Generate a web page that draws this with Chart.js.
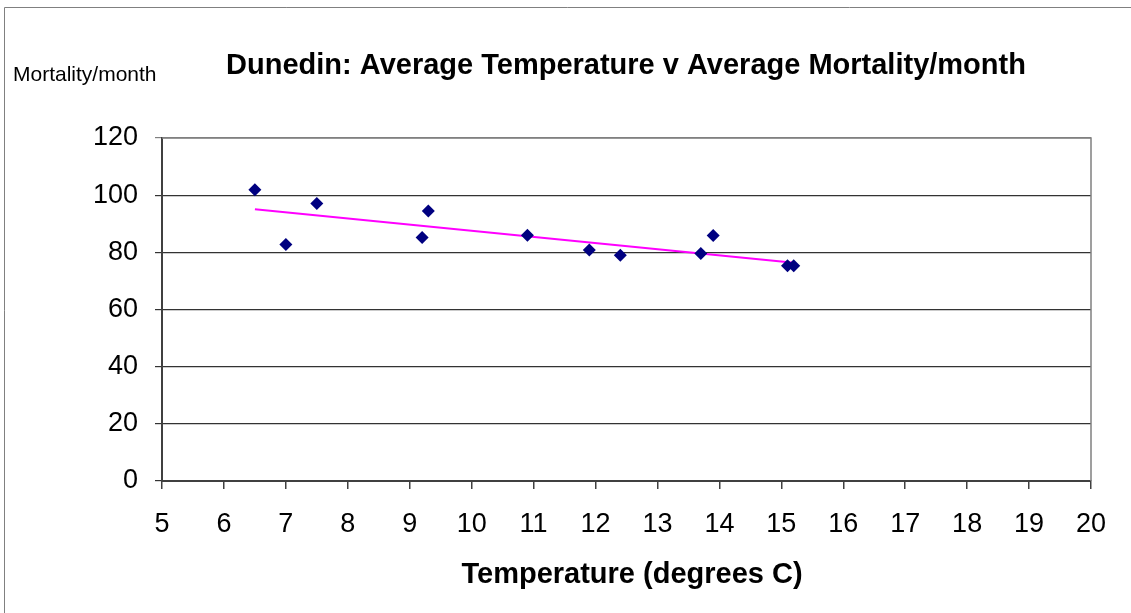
<!DOCTYPE html>
<html>
<head>
<meta charset="utf-8">
<script src="https://cdn.jsdelivr.net/npm/chart.js@4.4.1/dist/chart.umd.min.js"></script>
<style>
  html, body { margin: 0; padding: 0; background: #ffffff; }
  #wrap { width: 1131px; height: 613px; position: relative; }
</style>
</head>
<body>
<div id="wrap"><canvas id="chart" width="1131" height="613"></canvas></div>
<script>
// Monthly averages for Dunedin
const temperature = [6.5, 7.0, 7.5, 9.2, 9.3, 10.9, 11.9, 12.4, 13.7, 13.9, 15.1, 15.2];
const mortality   = [101.9, 82.7, 97.1, 85.2, 94.5, 86.0, 80.8, 79.0, 79.6, 85.9, 75.3, 75.3];

const xTicks = [5, 6, 7, 8, 9, 10, 11, 12, 13, 14, 15, 16, 17, 18, 19, 20];
const yTicks = [0, 20, 40, 60, 80, 100, 120];

const chartTitle = 'Dunedin: Average Temperature v Average Mortality/month';
const xTitle = 'Temperature (degrees C)';
const yTitle = 'Mortality/month';

// Least-squares trend line over the observed temperature range
function trendLine(xs, ys) {
  const n = xs.length;
  const mx = xs.reduce((a, b) => a + b, 0) / n;
  const my = ys.reduce((a, b) => a + b, 0) / n;
  let sxy = 0, sxx = 0;
  for (let i = 0; i < n; i++) {
    sxy += (xs[i] - mx) * (ys[i] - my);
    sxx += (xs[i] - mx) * (xs[i] - mx);
  }
  const slope = sxy / sxx;
  const x0 = Math.min(...xs), x1 = Math.max(...xs);
  return [
    { x: x0, y: my + slope * (x0 - mx) },
    { x: x1, y: my + slope * (x1 - mx) }
  ];
}

const points = temperature.map((t, i) => ({ x: t, y: mortality[i] }));
const FONT = '"Liberation Sans", Arial, sans-serif';

const decorations = {
  id: 'decorations',
  beforeDraw(chart) {
    const ctx = chart.ctx;
    ctx.save();
    // outer frame
    ctx.strokeStyle = '#808080';
    ctx.lineWidth = 1;
    ctx.beginPath();
    ctx.moveTo(4.5, 613);
    ctx.lineTo(4.5, 7.5);
    ctx.lineTo(1131, 7.5);
    ctx.stroke();
    ctx.restore();
  },
  afterDatasetsDraw(chart) {
    const ctx = chart.ctx;
    const a = chart.chartArea;
    ctx.save();
    // plot area border: top and right
    ctx.strokeStyle = '#808080';
    ctx.lineWidth = 1.5;
    ctx.beginPath();
    ctx.moveTo(a.left, a.top);
    ctx.lineTo(a.right, a.top);
    ctx.lineTo(a.right, a.bottom);
    ctx.stroke();
    ctx.restore();
  },
  afterDraw(chart) {
    const ctx = chart.ctx;
    ctx.save();
    ctx.fillStyle = '#000000';
    ctx.textBaseline = 'alphabetic';
    ctx.textAlign = 'center';
    ctx.font = 'bold 29px ' + FONT;
    ctx.fillText(chartTitle, 626, 74);
    ctx.fillText(xTitle, 632, 583);
    ctx.textAlign = 'left';
    ctx.font = '21px ' + FONT;
    ctx.fillText(yTitle, 13, 81);
    ctx.restore();
  }
};

new Chart(document.getElementById('chart'), {
  type: 'scatter',
  data: {
    datasets: [
      {
        label: 'Mortality',
        data: points,
        pointStyle: 'rectRot',
        pointRadius: 6.5,
        pointHoverRadius: 6.5,
        backgroundColor: '#000080',
        borderColor: '#000080',
        borderWidth: 0,
        order: 1
      },
      {
        label: 'Trend',
        type: 'line',
        data: trendLine(temperature, mortality),
        borderColor: '#ff00ff',
        borderWidth: 2,
        pointRadius: 0,
        fill: false,
        order: 2
      }
    ]
  },
  options: {
    responsive: false,
    animation: false,
    events: [],
    layout: { padding: { top: 138, left: 0, right: 40, bottom: 0 } },
    plugins: {
      legend: { display: false },
      title: { display: false },
      tooltip: { enabled: false }
    },
    scales: {
      x: {
        type: 'linear',
        min: 5,
        max: 20,
        afterFit(scale) { scale.height = 132; },
        afterBuildTicks(scale) { scale.ticks = xTicks.map(v => ({ value: v })); },
        border: { display: true, color: '#404040', width: 2 },
        grid: { drawOnChartArea: false, drawTicks: true, tickLength: 8, color: '#404040', lineWidth: 1.5 },
        ticks: { color: '#000000', font: { family: FONT, size: 27 }, padding: 19, maxRotation: 0 }
      },
      y: {
        type: 'linear',
        min: 0,
        max: 120,
        afterFit(scale) { scale.width = 162; },
        afterBuildTicks(scale) { scale.ticks = yTicks.map(v => ({ value: v })); },
        border: { display: true, color: '#404040', width: 2 },
        grid: {
          drawTicks: true,
          tickLength: 7,
          color: ctx => (ctx.tick && ctx.tick.value === 120 ? '#808080' : '#333333'),
          lineWidth: 1.2
        },
        ticks: { color: '#000000', font: { family: FONT, size: 27 }, padding: 17 }
      }
    }
  },
  plugins: [decorations]
});
</script>
</body>
</html>
